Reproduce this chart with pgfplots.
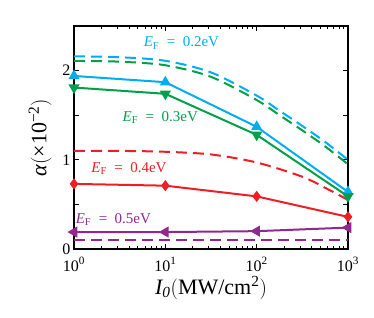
\documentclass[border=0pt]{standalone}
\usepackage{fontspec}
\setmainfont{Liberation Serif}
\usepackage{pgfplots}
\pgfplotsset{compat=1.18}
\definecolor{cblue}{RGB}{0,174,239}
\definecolor{cgreen}{RGB}{0,160,75}
\definecolor{cred}{RGB}{238,30,36}
\definecolor{cpurple}{RGB}{146,39,143}
\newcommand{\EF}[1]{{\itshape E}\textsubscript{F}\enspace=\enspace#1eV}
\begin{document}
\begin{tikzpicture}
\begin{axis}[
  name=ax, at={(0,0)}, anchor=south west,
  scale only axis, width=274pt, height=223pt,
  xmode=log, xmin=1, xmax=1000, ymin=0, ymax=2.5,
  xtick={1,10,100,1000},
  xticklabels={10\textsuperscript{0},10\textsuperscript{1},10\textsuperscript{2},10\textsuperscript{3}},
  ytick={0,0.5,1,1.5,2,2.5},
  yticklabels={0,,1,,2,},
  tick align=inside, major tick length=5pt, minor tick length=3pt,
  axis line style={line width=1.2pt}, every tick/.style={black, line width=0.9pt},
  tick label style={font=\fontsize{16}{18}\selectfont},
  xticklabel style={yshift=-5pt},
  /pgf/number format/assume math mode=true,
  xlabel={\fontsize{22}{24}\selectfont{\itshape I\textsubscript{0}}$\Bigl($MW/cm\textsuperscript{2}$\Bigr)$},
  ylabel={\fontsize{22}{24}\selectfont{\itshape α}$\Bigl($×10\textsuperscript{−2}$\Bigr)$},
  xlabel style={yshift=2pt},
  ylabel style={yshift=4pt},
  clip=false,
]
% solid lines
\addplot[cblue, line width=2pt, mark=triangle*, mark size=4.5pt] coordinates {(1,1.94) (10,1.87) (100,1.37) (1000,0.64)};
\addplot[cgreen, line width=2pt, mark=triangle*, mark options={rotate=180}, mark size=4.5pt] coordinates {(1,1.81) (10,1.74) (100,1.28) (1000,0.59)};
\addplot[cred, line width=2pt, mark=diamond*, mark size=4pt] coordinates {(1,0.73) (10,0.71) (100,0.59) (1000,0.36)};
\addplot[cpurple, line width=2pt, mark=triangle*, mark options={rotate=90}, mark size=4.5pt] coordinates {(1,0.19) (10,0.19) (100,0.20) (1000,0.24)};
% dashed lines
\addplot[cblue, line width=2pt, dash pattern=on 11pt off 6pt, smooth] coordinates {(1,2.16) (3.16,2.15) (10,2.11) (31.6,1.98) (100,1.72) (178,1.55) (316,1.38) (562,1.20) (1000,1.00)};
\addplot[cgreen, line width=2pt, dash pattern=on 11pt off 6pt, smooth] coordinates {(1,2.11) (3.16,2.10) (10,2.06) (31.6,1.93) (100,1.67) (178,1.50) (316,1.33) (562,1.15) (1000,0.95)};
\addplot[cred, line width=2pt, dash pattern=on 11pt off 6pt, smooth] coordinates {(1,1.10) (3.16,1.10) (10,1.09) (31.6,1.06) (100,0.97) (316,0.81) (630,0.66) (1000,0.55)};
\addplot[cpurple, line width=2pt, dash pattern=on 11pt off 6pt] coordinates {(1,0.10) (10,0.10) (100,0.10) (1000,0.10)};
% labels
\node[cblue, font=\fontsize{15}{17}\selectfont] at (axis cs:15,2.31) {\EF{0.2}};
\node[cgreen, font=\fontsize{15}{17}\selectfont] at (axis cs:8.8,1.47) {\EF{0.3}};
\node[cred, font=\fontsize{15}{17}\selectfont] at (axis cs:4.0,0.90) {\EF{0.4}};
\node[cpurple, font=\fontsize{15}{17}\selectfont] at (axis cs:2.7,0.33) {\EF{0.5}};
\end{axis}
\useasboundingbox (-74pt,-68pt) rectangle (300pt,249pt);
\end{tikzpicture}
\end{document}
